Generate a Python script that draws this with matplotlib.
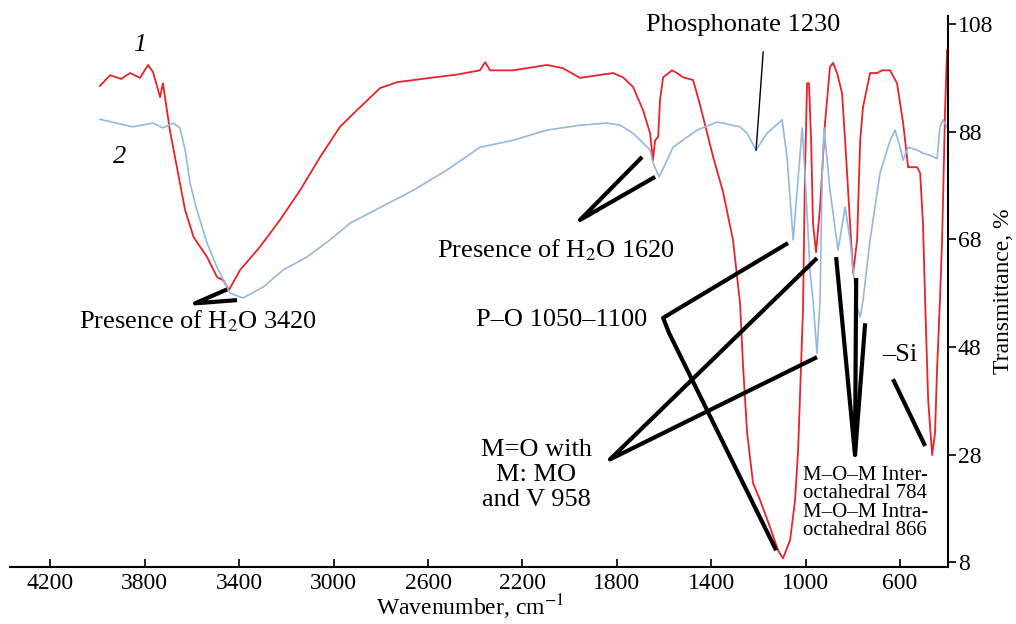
import matplotlib.pyplot as plt

plt.rcParams['font.family'] = ['Liberation Serif', 'DejaVu Serif']
plt.rcParams['mathtext.fontset'] = 'stix'

# Spectrum 1 (red)
wn_1 = [3990, 3947, 3900, 3862, 3820, 3786, 3765, 3735, 3723, 3693, 3659, 3629, 3593, 3536,
        3494, 3468, 3443, 3396, 3312, 3227, 3142, 3057, 2973, 2901, 2803, 2731, 2591, 2480,
        2380, 2358, 2337, 2240, 2096, 2028, 1956, 1816, 1774, 1731, 1689, 1659, 1647, 1638,
        1625, 1617, 1604, 1566, 1545, 1519, 1477, 1447, 1392, 1350, 1308, 1278, 1265, 1248,
        1223, 1193, 1151, 1117, 1096, 1066, 1045, 1032, 1011, 1003, 994, 986, 977, 969, 956,
        939, 918, 897, 884, 867, 846, 833, 812, 799, 782, 769, 757, 727, 697, 676, 642, 613,
        587, 566, 528, 515, 503, 494, 481, 464, 452, 443, 431, 422, 409, 401]
t_1 = [96.5, 98.5, 97.8, 98.9, 98.0, 100.4, 99.1, 94.4, 97.0, 88.1, 80.3, 73.4, 68.4, 64.7,
       61.0, 60.4, 58.6, 62.3, 66.6, 71.6, 77.1, 83.3, 88.9, 92.0, 96.1, 97.2, 98.0, 98.6,
       99.4, 100.9, 99.4, 99.4, 100.4, 99.8, 98.0, 98.9, 98.1, 96.3, 92.0, 87.7, 82.7, 86.4,
       87.0, 93.9, 98.1, 99.4, 98.9, 98.1, 97.6, 92.9, 83.3, 76.8, 67.9, 56.1, 44.2, 32.0,
       22.7, 19.5, 14.5, 10.2, 8.7, 12.1, 19.5, 28.8, 55.4, 80.3, 97.0, 97.0, 86.4, 71.0, 65.6,
       74.0, 89.6, 100.0, 100.8, 98.9, 95.2, 86.4, 71.0, 61.7, 67.9, 86.4, 92.6, 98.9, 98.9,
       99.4, 99.4, 97.0, 89.6, 81.4, 81.4, 80.3, 71.0, 56.7, 38.1, 27.9, 32.0, 44.2, 56.7,
       67.9, 92.6, 103.2]

# Spectrum 2 (blue)
wn_2 = [3990, 3850, 3765, 3723, 3680, 3651, 3629, 3608, 3579, 3536, 3494, 3439, 3384, 3299,
        3214, 3113, 3015, 2930, 2663, 2519, 2380, 2240, 2096, 1956, 1841, 1786, 1731, 1689,
        1659, 1647, 1621, 1587, 1562, 1502, 1460, 1375, 1278, 1248, 1210, 1164, 1100, 1079,
        1053, 1036, 1015, 1003, 981, 969, 952, 939, 930, 922, 897, 863, 833, 812, 782, 769,
        757, 727, 685, 642, 621, 600, 587, 566, 528, 503, 473, 443, 431, 418, 401]
t_2 = [90.3, 88.9, 89.6, 88.7, 89.6, 88.7, 84.6, 78.4, 73.4, 67.3, 62.8, 58.0, 57.1, 59.1,
       62.3, 64.7, 67.9, 71.0, 77.1, 80.9, 85.1, 86.4, 88.3, 89.2, 89.6, 89.2, 87.7, 85.9,
       84.6, 82.2, 79.6, 82.7, 85.1, 87.0, 88.3, 89.8, 88.9, 87.7, 84.6, 87.7, 90.2, 83.3,
       67.9, 77.1, 88.7, 80.3, 61.7, 56.7, 46.8, 56.7, 80.3, 88.7, 77.1, 66.0, 74.0, 67.9,
       55.4, 53.5, 56.7, 67.9, 80.3, 86.4, 88.3, 85.1, 82.7, 85.1, 84.6, 84.0, 83.6, 83.0,
       88.9, 90.2, 88.9]

x_ticks = [4200, 3800, 3400, 3000, 2600, 2200, 1800, 1400, 1000, 600]
y_ticks = [8, 28, 48, 68, 88, 108]

fig = plt.figure(figsize=(10.16, 6.24), dpi=100)
ax = fig.add_axes([10 / 1016, 1 - 567 / 624, 938 / 1016, 551 / 624])

ax.plot(wn_1, t_1, color='#e8222a', lw=1.3)
ax.plot(wn_2, t_2, color='#94b8de', lw=1.2)

ax.set_xlim(4371, 397)
ax.set_ylim(7.1, 109.5)
ax.set_xticks(x_ticks)
ax.set_yticks(y_ticks)
ax.spines['left'].set_visible(False)
ax.spines['top'].set_visible(False)
ax.spines['bottom'].set_linewidth(1.5)
ax.spines['right'].set_linewidth(1.5)
ax.yaxis.tick_right()
ax.yaxis.set_label_position('right')
ax.tick_params(axis='x', direction='in', length=6, width=1.2, labelsize=17, pad=4)
ax.tick_params(axis='y', direction='out', length=6, width=1.2, labelsize=17, pad=1)
ax.set_xlabel('Wavenumber, cm$^{-1}$', fontsize=17)
ax.xaxis.set_label_coords(0.49, -0.047)
ax.set_ylabel('Transmittance, %', fontsize=17, labelpad=0)

# annotation leader lines
kw = dict(color='black', lw=3, solid_capstyle='butt')
ax.plot([3409, 3587, 3451], [56.7, 56.1, 58.7], **kw)
ax.plot([1693, 1956, 1638], [83.3, 71.6, 79.6], **kw)
ax.plot([1180, 1210], [102.8, 84.6], color='black', lw=1)
ax.plot([1075, 1604, 1579, 1125], [67.3, 53.4, 50.6, 10.2], **kw)
ax.plot([952, 1829, 952], [64.5, 27.1, 46.1], **kw)
ax.plot([871, 791, 786], [64.7, 27.9, 60.8], **kw)
ax.plot([748, 791], [52.4, 27.9], **kw)
ax.plot([630, 494], [42.0, 29.6], **kw)

fs = 19
ax.text(3574, 55.2, 'Presence of H$_2$O 3420', fontsize=fs, ha='center', va='top')
ax.text(2058, 66.0, 'Presence of H$_2$O 1620', fontsize=fs, ha='center', va='center')
ax.text(1265, 107.8, 'Phosphonate 1230', fontsize=fs, ha='center', va='center')
ax.text(2036, 53.0, 'P–O 1050–1100', fontsize=fs, ha='center', va='center')
ax.text(2142, 24.2, 'M=O with\nM: MO\nand V 958', fontsize=fs, ha='center', va='center',
        linespacing=1.2)
ax.text(600, 46.5, '–Si', fontsize=fs, ha='center', va='center')
ax.text(1011, 19.0, 'M–O–M Inter-\noctahedral 784\nM–O–M Intra-\noctahedral 866',
        fontsize=15, ha='left', va='center', linespacing=0.95,
        bbox=dict(facecolor='white', edgecolor='none', pad=1))
ax.text(3820, 104.1, '1', fontsize=fs, style='italic', ha='center', va='center')
ax.text(3905, 83.3, '2', fontsize=fs, style='italic', ha='center', va='center')

fig.savefig('out.png', dpi=100)
